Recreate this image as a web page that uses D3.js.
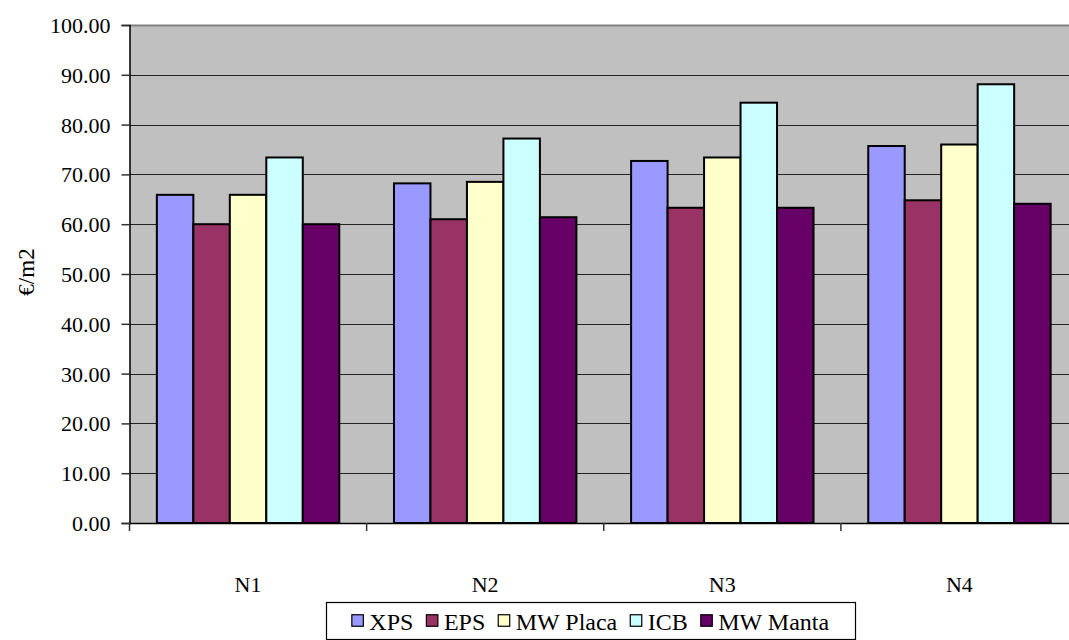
<!DOCTYPE html>
<html>
<head>
<meta charset="utf-8">
<script src="https://cdn.jsdelivr.net/npm/d3@7"></script>
</head>
<body style="margin:0">
<svg id="chart" width="1069" height="640"></svg>
<script>
// Cost per square metre by insulation level and material
const categories = ["N1", "N2", "N3", "N4"];
const seriesNames = ["XPS", "EPS", "MW Placa", "ICB", "MW Manta"];
const xpsValues     = [65.9, 68.2, 72.7, 75.7];
const epsValues     = [60.0, 61.0, 63.3, 64.8];
const mwPlacaValues = [65.9, 68.5, 73.4, 76.0];
const icbValues     = [73.4, 77.2, 84.4, 88.1];
const mwMantaValues = [60.0, 61.4, 63.3, 64.1];
const yTicks = [0, 10, 20, 30, 40, 50, 60, 70, 80, 90, 100];
const yTitle = "€/m2";

const seriesValues = [xpsValues, epsValues, mwPlacaValues, icbValues, mwMantaValues];
const colors = ["#9999FF", "#993366", "#FFFFCC", "#CCFFFF", "#660066"];
const FONT = "Liberation Serif";

const svg = d3.select("#chart");
const plot = { left: 129.5, right: 1078, top: 25, bottom: 523 };

const x0 = d3.scaleBand().domain(categories).range([plot.left, plot.right]).paddingInner(0).paddingOuter(0);
// Gap between clusters is 1.5 bar widths
const groupFrac = 5 / 6.5;
const x1 = d3.scaleBand().domain(seriesNames)
  .range([0, x0.bandwidth() * groupFrac]).padding(0);
const groupOffset = x0.bandwidth() * (1 - groupFrac) / 2;
const y = d3.scaleLinear().domain([0, 100]).range([plot.bottom, plot.top]);

// plot background
svg.append("rect")
  .attr("x", plot.left).attr("y", plot.top)
  .attr("width", plot.right - plot.left).attr("height", plot.bottom - plot.top)
  .attr("fill", "#C0C0C0");

// gridlines
svg.append("g").selectAll("line")
  .data(yTicks.filter(t => t > 0 && t < 100))
  .join("line")
  .attr("x1", plot.left).attr("x2", plot.right)
  .attr("y1", d => Math.round(y(d)) + 0.5).attr("y2", d => Math.round(y(d)) + 0.5)
  .attr("stroke", "#222").attr("stroke-width", 1.2);

// top border of plot area
svg.append("line")
  .attr("x1", plot.left).attr("x2", plot.right)
  .attr("y1", plot.top + 0.5).attr("y2", plot.top + 0.5)
  .attr("stroke", "#808080").attr("stroke-width", 2);

// bars
const rows = categories.map((c, i) => ({ cat: c, vals: seriesNames.map((s, j) => ({ s, j, v: seriesValues[j][i] })) }));
svg.append("g").selectAll("g")
  .data(rows)
  .join("g")
  .attr("transform", d => `translate(${x0(d.cat) + groupOffset},0)`)
  .selectAll("rect")
  .data(d => d.vals)
  .join("rect")
  .attr("x", d => x1(d.s))
  .attr("y", d => y(d.v))
  .attr("width", x1.bandwidth())
  .attr("height", d => y(0) - y(d.v))
  .attr("fill", d => colors[d.j])
  .attr("stroke", "#000")
  .attr("stroke-width", 2);

// y axis
const yAxis = d3.axisLeft(y).tickValues(yTicks).tickFormat(d3.format(".2f")).tickSizeOuter(0).tickSize(8).tickPadding(11);
const gy = svg.append("g").attr("transform", `translate(${plot.left},0)`).call(yAxis)
  .attr("font-family", null).attr("font-size", null);
gy.select(".domain").attr("stroke", "#000").attr("stroke-width", 1.5);
gy.selectAll(".tick line").attr("stroke", "#333").attr("stroke-width", 1.5);
gy.selectAll("text")
  .style("font-family", `"${FONT}"`).style("font-size", "22px")
  .attr("fill", "#000").attr("dy", "0.34em");

// x axis with ticks between categories
const gx = svg.append("g").attr("transform", `translate(0,${plot.bottom})`);
gx.append("line").attr("x1", plot.left).attr("x2", plot.right)
  .attr("y1", 0.5).attr("y2", 0.5).attr("stroke", "#000").attr("stroke-width", 1.5);
const boundaries = categories.map(c => x0(c));
gx.selectAll("line.tk").data(boundaries).join("line").attr("class", "tk")
  .attr("x1", d => d).attr("x2", d => d).attr("y1", 0).attr("y2", 8)
  .attr("stroke", "#333").attr("stroke-width", 1.5);
gx.selectAll("text").data(categories).join("text")
  .attr("x", d => x0(d) + x0.bandwidth() / 2)
  .attr("y", 69)
  .attr("text-anchor", "middle")
  .style("font-family", `"${FONT}"`).style("font-size", "22px")
  .text(d => d);

// y title
svg.append("text")
  .attr("transform", `translate(34,272) rotate(-90)`)
  .attr("text-anchor", "middle")
  .style("font-family", `"${FONT}"`).style("font-size", "23px")
  .text(yTitle);

// legend: entries laid out in a row, centred inside a framed box
const box = { left: 326, right: 855, top: 602, bottom: 639 };
const legend = svg.append("g");
legend.append("rect")
  .attr("x", box.left + 0.5).attr("y", box.top + 0.5)
  .attr("width", box.right - box.left).attr("height", box.bottom - box.top)
  .attr("fill", "#fff").attr("stroke", "#000").attr("stroke-width", 1.2);
const row = legend.append("g");
const items = row.selectAll("g").data(seriesNames).join("g");
const sw = 11.5, swGap = 6, itemGap = 13;
items.append("rect").attr("width", sw).attr("height", sw).attr("y", -sw / 2 - 1)
  .attr("fill", (d, i) => colors[i]).attr("stroke", "#000").attr("stroke-width", 1.2);
items.append("text").attr("x", sw + swGap).attr("y", 0).attr("dy", "0.34em")
  .style("font-family", `"${FONT}"`).style("font-size", "24px")
  .text(d => d);
let cx = 0;
items.each(function() {
  const g = d3.select(this);
  g.attr("transform", `translate(${cx},0)`);
  cx += sw + swGap + g.select("text").node().getComputedTextLength() + itemGap;
});
const rowW = cx - itemGap;
row.attr("transform", `translate(${(box.left + box.right) / 2 - rowW / 2},${(box.top + box.bottom) / 2 + 1})`);
</script>
</body>
</html>
